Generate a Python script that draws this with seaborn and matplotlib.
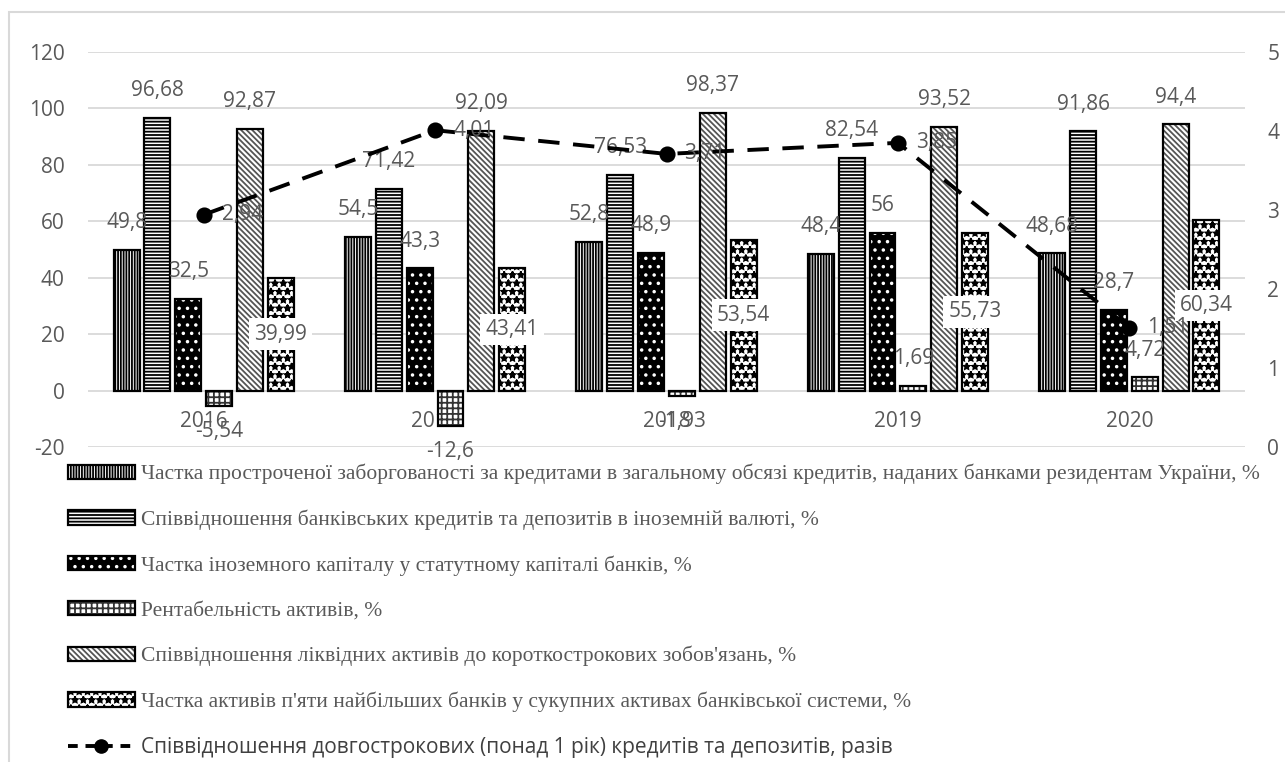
import matplotlib
matplotlib.use("Agg")
import matplotlib.pyplot as plt
import matplotlib.patches as mpatches
from matplotlib.lines import Line2D
from matplotlib.legend_handler import HandlerTuple
import numpy as np
import pandas as pd
import seaborn as sns

# ---- data ----
years = ["2016", "2017", "2018", "2019", "2020"]
overdue_share = [49.8, 54.5, 52.8, 48.4, 48.68]
fx_loans_deposits = [96.68, 71.42, 76.53, 82.54, 91.86]
foreign_capital = [32.5, 43.3, 48.9, 56, 28.7]
roa = [-5.54, -12.6, -1.93, 1.69, 4.72]
liquid_to_short = [92.87, 92.09, 98.37, 93.52, 94.4]
top5_assets = [39.99, 43.41, 53.54, 55.73, 60.34]
longterm_ratio = [2.94, 4.01, 3.71, 3.85, 1.51]

series_names = [
    "Частка простроченої заборгованості за кредитами в загальному обсязі кредитів, наданих банками резидентам України, %",
    "Співвідношення банківських кредитів та депозитів в іноземній валюті, %",
    "Частка іноземного капіталу у статутному капіталі банків, %",
    "Рентабельність активів, %",
    "Співвідношення ліквідних активів до короткострокових зобов'язань, %",
    "Частка активів п'яти найбільших банків у сукупних активах банківської системи, %",
]
line_name = "Співвідношення довгострокових (понад 1 рік) кредитів та депозитів, разів"
series_values = [overdue_share, fx_loans_deposits, foreign_capital, roa,
                 liquid_to_short, top5_assets]

df = pd.DataFrame({
    "year": np.tile(years, len(series_names)),
    "series": np.repeat(series_names, len(years)),
    "value": np.concatenate(series_values),
})
df_line = pd.DataFrame({"year": years, "value": longterm_ratio})

# fill / hatch colour / hatch pattern per series
styles = [
    ("white", "black", "||||||"),
    ("white", "black", "-----"),
    ("black", "white", ".."),
    ("white", "#333333", "+++"),
    ("white", "#555555", "\\\\\\\\\\\\"),
    ("white", "black", "**"),
]

GRAY = "#595959"

sns.set_style("white")
plt.rcParams["font.family"] = ["Open Sans", "DejaVu Sans"]
plt.rcParams["hatch.linewidth"] = 1.3
plt.rcParams["axes.unicode_minus"] = False

fig = plt.figure(figsize=(12.85, 7.62), dpi=100)
ax = fig.add_axes([88 / 1285, 1 - 447 / 762, (1245 - 88) / 1285, (447 - 52) / 762])

sns.barplot(data=df, x="year", y="value", hue="series", hue_order=series_names,
            palette=["white"] * len(series_names), width=0.8, gap=0.16,
            edgecolor="black", linewidth=1.5, legend=False, ax=ax, zorder=2)

ax.set_ylim(-20, 120)
ax.set_yticks(range(-20, 121, 20))
ax.yaxis.grid(True, color="#d9d9d9", linewidth=1.3, zorder=0)
ax.set_axisbelow(True)
for s in ax.spines.values():
    s.set_visible(False)
ax.spines["bottom"].set_position(("data", 0))
ax.tick_params(axis="x", length=0, pad=15, labelsize=15, labelcolor=GRAY)
ax.tick_params(axis="y", length=0, pad=17, labelsize=15, labelcolor=GRAY)
ax.set_xlabel("")
ax.set_ylabel("")


def fmt(v):
    return f"{v:g}".replace(".", ",")


for i, cont in enumerate(ax.containers):
    face, hcol, hatch = styles[i]
    for patch, val in zip(cont.patches, series_values[i]):
        patch.set_facecolor(face)
        patch.set_edgecolor(hcol)
        patch.set_hatch(hatch)
        patch.set_linewidth(0)
        ax.add_patch(mpatches.Rectangle((patch.get_x(), patch.get_y()),
                                        patch.get_width(), patch.get_height(),
                                        fill=False, edgecolor="black",
                                        linewidth=1.6, zorder=3))
        cx = patch.get_x() + patch.get_width() / 2
        if i == len(series_names) - 1:
            ax.annotate(fmt(val), xy=(cx, val / 2), ha="center", va="center",
                        fontsize=15, color=GRAY, zorder=6,
                        bbox=dict(boxstyle="square,pad=0.25", fc="white", ec="none"))
        elif val >= 0:
            ax.annotate(fmt(val), xy=(cx, val), xytext=(0, 19.5),
                        textcoords="offset points", ha="center", va="center",
                        fontsize=15, color=GRAY, zorder=6)
        else:
            ax.annotate(fmt(val), xy=(cx, val), xytext=(0, -18),
                        textcoords="offset points", ha="center", va="center",
                        fontsize=15, color=GRAY, zorder=6)

# secondary axis: long-term ratio
ax2 = ax.twinx()
sns.pointplot(data=df_line, x="year", y="value", color="black", markers="o",
              linestyles="--", ax=ax2, markersize=9.5, linewidth=2.8)
for ln in ax2.lines:
    ln.set_linestyle((0, (5.5, 3.5)))
ax2.set_ylim(0, 5)
ax2.set_yticks(range(0, 6))
ax2.set_ylabel("")
ax2.set_xlabel("")
for s in ax2.spines.values():
    s.set_visible(False)
ax2.tick_params(axis="y", length=0, pad=16, labelsize=15, labelcolor=GRAY)
ax2.grid(False)
ln = ax2.lines[0]
for x, v in zip(ln.get_xdata(), longterm_ratio):
    ax2.annotate(fmt(v), xy=(x, v), xytext=(13, 0), textcoords="offset points",
                 ha="left", va="center", fontsize=15, color=GRAY)
ax.set_xlim(-0.5, len(years) - 0.5)
ax2.set_xlim(-0.5, len(years) - 0.5)

# legend
handles = []
for face, hcol, hatch in styles:
    base = mpatches.Patch(facecolor=face, edgecolor=hcol, hatch=hatch, linewidth=0)
    rim = mpatches.Patch(facecolor="none", edgecolor="black", linewidth=1.6)
    handles.append((base, rim))
handles.append(Line2D([], [], color="black", linewidth=2.8, linestyle=(0, (2.5, 2)),
                      marker="o", markersize=9.5))
leg = fig.legend(handles, series_names + [line_name], loc="upper left",
                 bbox_to_anchor=(68 / 1285, 1 - 464 / 762), frameon=False,
                 borderpad=0, borderaxespad=0, handlelength=3.1, handleheight=0.65,
                 handletextpad=0.3, labelspacing=1.17,
                 handler_map={tuple: HandlerTuple(ndivide=1)},
                 prop={"family": "Liberation Serif", "size": 15.5})
for t in leg.get_texts():
    t.set_color(GRAY)
leg.get_texts()[-1].set_fontfamily("Open Sans")
leg.get_texts()[-1].set_fontsize(15)
leg.get_texts()[-1].set_color("#404040")

# outer frame
fig.patches.append(mpatches.Rectangle((9 / 1285, -0.1), 1.2, 1.1 - 12 / 762,
                                      transform=fig.transFigure, fill=False,
                                      edgecolor="#d9d9d9", linewidth=1.5))

fig.savefig("out.png", dpi=100)
